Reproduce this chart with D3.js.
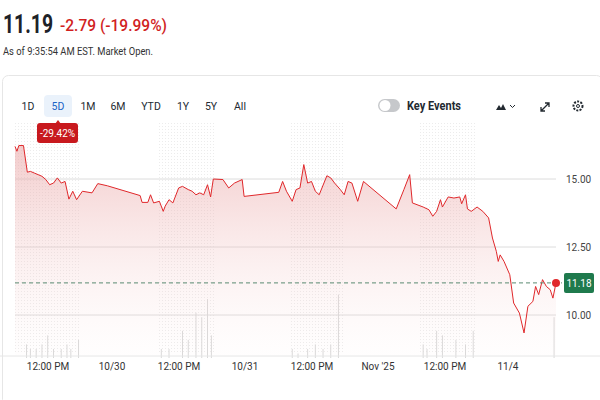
<!DOCTYPE html><html><head><meta charset="utf-8"><script src="https://cdn.jsdelivr.net/npm/d3@7"></script>
<style>body{margin:0;background:#fff;font-family:Roboto,"Noto Sans",sans-serif}</style></head><body><svg id="c" width="600" height="400"></svg>
<script>
const times=[40,45,50,62,72,80,90,100,110,120,130,140,150,160,170,180,190,200,215,240,255,280,365,370,385,392,400,415,425,430,440,450,465,475,490,500,510,520,530,540,548,555,580,595,610,630,635,725,735,745,760,770,780,790,800,810,820,830,850,860,870,885,895,905,915,930,945,1030,1050,1065,1072,1100,1115,1125,1135,1145,1150,1165,1180,1195,1200,1210,1215,1225,1240,1255,1270,1280,1290,1295,1300,1310,1325,1335,1350,1362,1372,1385,1392,1400,1410,1420,1430,1437,1445];
const prices=[16.2,16.02,16.23,16.23,15.25,15.28,15.22,15.16,15.1,14.98,14.79,14.85,15.04,14.85,14.91,14.26,14.55,14.24,14.55,14.49,14.83,14.75,14.39,14.14,14.14,14.42,14.12,14.18,13.81,14.0,14.24,14.12,14.67,14.73,14.61,14.55,14.42,14.49,14.42,14.79,14.34,15.0,14.98,14.67,14.85,14.98,14.36,14.51,14.91,14.55,14.18,14.61,14.67,15.53,14.85,14.91,14.55,14.42,15.12,15.04,14.85,14.61,14.42,14.91,14.85,14.18,14.91,13.9,14.61,15.16,14.12,13.97,13.87,13.63,13.81,14.24,13.97,14.34,14.3,14.34,14.09,14.42,13.9,13.81,13.97,13.81,13.57,12.83,12.34,11.97,12.21,11.97,11.48,10.44,10.07,9.34,10.32,10.5,11.05,10.75,11.3,11.05,10.93,10.62,11.18];
const volTimes=[70,80,95,110,125,140,160,175,185,205,420,440,475,490,510,525,540,550,760,775,800,820,840,860,880,1100,1110,1135,1150,1185,1210,1230,1440];
const volumes=[3,2,2,3,5,2,2,3,2,4,2,2,6,4,10,9,13,5,2,1,2,3,2,3,14,3,2,6,5,4,3,6,9];
const yTicks=[10,12.5,15];
const xTickLabels=[["12:00 PM",48],["10/30",112],["12:00 PM",179],["10/31",245],["12:00 PM",312],["Nov '25",378],["12:00 PM",445],["11/4",508]];
const ranges=["1D","5D","1M","6M","YTD","1Y","5Y","All"];
const svg=d3.select("#c");
const x=d3.scaleLinear().domain([40,1445]).range([15,556]);
const y=d3.scaleLinear().domain([10,15]).range([315,179]);
const vy=d3.scaleLinear().domain([0,15]).range([358,290]);
svg.append("text").attr("x",3).attr("y",33).attr("font-size",26).attr("font-weight",700).attr("fill","#1d2228").attr("textLength",50).attr("lengthAdjust","spacingAndGlyphs").text("11.19");
svg.append("text").attr("x",60).attr("y",31).attr("font-size",17).attr("font-weight",500).attr("fill","#d11f1f").attr("textLength",107).attr("lengthAdjust","spacingAndGlyphs").text("-2.79 (-19.99%)");
svg.append("text").attr("x",3).attr("y",55).attr("font-size",10).attr("fill","#333").attr("textLength",150).attr("lengthAdjust","spacingAndGlyphs").text("As of 9:35:54 AM EST. Market Open.");
svg.append("rect").attr("x",2.5).attr("y",75.5).attr("width",600).attr("height",330).attr("rx",6).attr("fill","none").attr("stroke","#e6e6e6");
const rx=[28,58,88,118,151,183,211,240];
svg.append("rect").attr("x",44).attr("y",95).attr("width",28).attr("height",22).attr("rx",4).attr("fill","#eaf2fb");
ranges.forEach((r,i)=>svg.append("text").attr("x",rx[i]).attr("y",110).attr("text-anchor","middle").attr("font-size",10.5).attr("fill",i==1?"#1a63c6":"#232a31").text(r));
svg.append("rect").attr("x",378).attr("y",99).attr("width",22).attr("height",13).attr("rx",6.5).attr("fill","#c6c8cb");
svg.append("circle").attr("cx",385).attr("cy",105.5).attr("r",5.5).attr("fill","#fff");
svg.append("text").attr("x",407).attr("y",110).attr("font-size",12).attr("font-weight",700).attr("fill","#232a31").attr("textLength",54).attr("lengthAdjust","spacingAndGlyphs").text("Key Events");
svg.append("path").attr("d","M496,110 L499,105 L501,108 L503,104 L506,110Z").attr("fill","#232a31");
svg.append("path").attr("d","M510,105 l2.5,2.5 l2.5,-2.5").attr("fill","none").attr("stroke","#232a31");
svg.append("path").attr("d","M541,111 L549,103 M545,103 h4 v4 M541,107 v4 h4").attr("fill","none").attr("stroke","#232a31").attr("stroke-width",1.3);
svg.append("circle").attr("cx",578).attr("cy",106).attr("r",4.5).attr("fill","none").attr("stroke","#232a31").attr("stroke-width",2).attr("stroke-dasharray","2 1.3");
svg.append("circle").attr("cx",578).attr("cy",106).attr("r",1.5).attr("fill","none").attr("stroke","#232a31");
const defs=svg.append("defs");
const pat=defs.append("pattern").attr("id","dots").attr("width",3).attr("height",3).attr("patternUnits","userSpaceOnUse");
pat.append("rect").attr("width",1).attr("height",1).attr("fill","#ececec");
[[15,80],[157,215],[290,345],[420,477]].forEach(([a,b])=>svg.append("rect").attr("x",a).attr("y",122).attr("width",b-a).attr("height",232).attr("fill","url(#dots)"));
const g=defs.append("linearGradient").attr("id","fill").attr("x1",0).attr("x2",0).attr("y1",0).attr("y2",1);
g.append("stop").attr("offset","0%").attr("stop-color","#e8a0a0").attr("stop-opacity",0.55);
g.append("stop").attr("offset","100%").attr("stop-color","#fbe4e4").attr("stop-opacity",0.05);
yTicks.forEach(t=>{svg.append("line").attr("x1",15).attr("x2",556).attr("y1",y(t)).attr("y2",y(t)).attr("stroke","#dcdcdc");
svg.append("text").attr("x",566).attr("y",y(t)+4).attr("font-size",10).attr("fill","#444").text(t.toFixed(2));});
svg.selectAll(".v").data(volTimes).enter().append("line").attr("x1",d=>x(d)).attr("x2",d=>x(d)).attr("y1",(d,i)=>vy(volumes[i])).attr("y2",358).attr("stroke","#d8d8d8");
const data=times.map((t,i)=>[t,prices[i]]);
svg.append("path").datum(data).attr("d",d3.area().x(d=>x(d[0])).y0(355).y1(d=>y(d[1]))).attr("fill","url(#fill)");
svg.append("path").datum(data).attr("d",d3.line().x(d=>x(d[0])).y(d=>y(d[1]))).attr("fill","none").attr("stroke","#e0282b").attr("stroke-width",1);
svg.append("line").attr("x1",15).attr("x2",562).attr("y1",y(11.18)).attr("y2",y(11.18)).attr("stroke","#5a8a72").attr("stroke-dasharray","4 3");
svg.append("circle").attr("cx",x(1445)).attr("cy",y(11.18)).attr("r",4).attr("fill","#e0282b");
svg.append("rect").attr("x",564).attr("y",y(11.18)-10).attr("width",30).attr("height",20).attr("rx",2).attr("fill","#1f7a4d");
svg.append("text").attr("x",579).attr("y",y(11.18)+4).attr("text-anchor","middle").attr("font-size",10).attr("fill","#fff").text("11.18");
svg.append("path").attr("d","M55,124 l3,-4 l3,4z").attr("fill","#d11f1f");
svg.append("rect").attr("x",37).attr("y",123).attr("width",41).attr("height",20).attr("rx",3).attr("fill","#c8191e");
svg.append("text").attr("x",57.5).attr("y",137).attr("text-anchor","middle").attr("font-size",10).attr("fill","#fff").text("-29.42%");
svg.append("line").attr("x1",0).attr("x2",600).attr("y1",356).attr("y2",356).attr("stroke","#e6e6e6");
xTickLabels.forEach(([l,px])=>svg.append("text").attr("x",px).attr("y",370).attr("text-anchor","middle").attr("font-size",10).attr("fill","#333").text(l));
</script></body></html>
